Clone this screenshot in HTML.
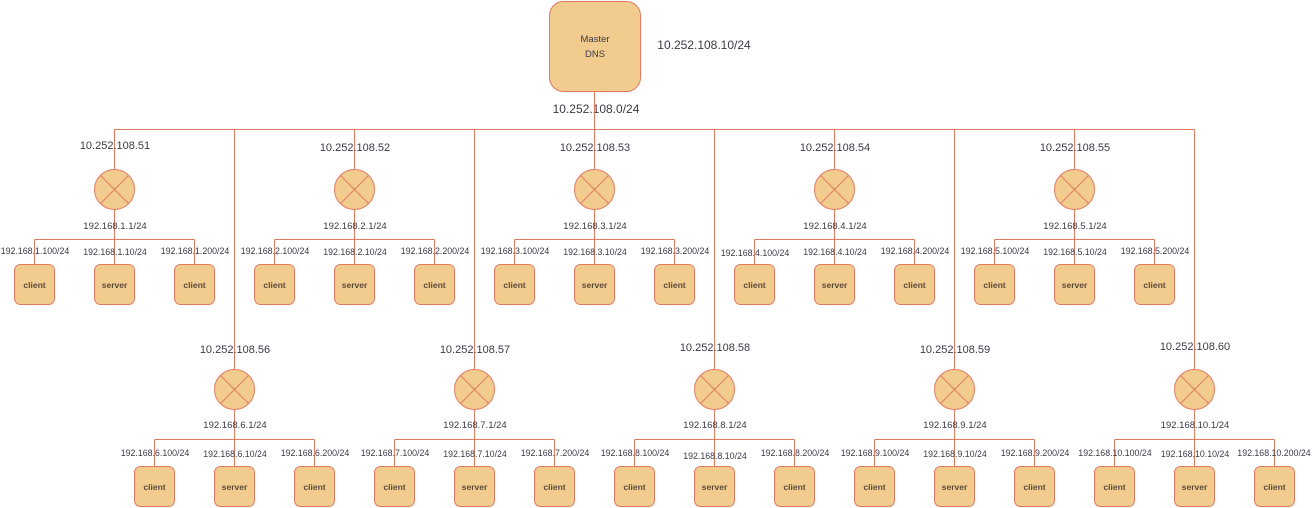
<!DOCTYPE html>
<html><head><meta charset="utf-8"><style>
html,body{margin:0;padding:0;background:#fff;}
svg{display:block;font-family:"Liberation Sans",sans-serif;}
.l{stroke:#e07a5f;stroke-width:1;fill:none;}
.b{fill:#f2cc8f;stroke:#e07a5f;stroke-width:1;}
.t{fill:#3a3a48;text-anchor:middle;}
.r{font-size:11px;}
.s{font-size:9.5px;}
.i{font-size:8.8px;}
.c{font-size:8.5px;font-weight:bold;fill:#5a4a3a;}
</style></head><body>
<svg width="1313" height="508" viewBox="0 0 1313 508">
<rect class="b" x="549.5" y="1.5" width="91" height="90" rx="14"/>
<text class="t" x="595" y="42" font-size="9.5">Master</text>
<text class="t" x="595" y="57" font-size="9.5">DNS</text>
<text class="t" x="704" y="49" font-size="12">10.252.108.10/24</text>
<text class="t" x="596" y="113" font-size="12">10.252.108.0/24</text>
<path class="l" d="M594.5 91V129.5M114.5 129.5H1194.5"/>

<!-- top row -->
<g>
<path class="l" d="M114.5 129.5V169M234.5 129.5V369M354.5 129.5V169M474.5 129.5V369M594.5 129.5V169M714.5 129.5V369M834.5 129.5V169M954.5 129.5V369M1074.5 129.5V169M1194.5 129.5V369"/>
</g>

<!-- group template drawn per router -->
<g id="g1">
<circle class="b" cx="114.5" cy="189.5" r="20"/><path class="l" d="M100.5 175.5L128.5 203.5M128.5 175.5L100.5 203.5M114.5 209.5V264M34.5 239.5H194.5M34.5 239.5V264M194.5 239.5V264"/>
<rect class="b" x="14.5" y="264.5" width="40" height="40" rx="6"/><rect class="b" x="94.5" y="264.5" width="40" height="40" rx="6"/><rect class="b" x="174.5" y="264.5" width="40" height="40" rx="6"/>
<text class="t r" x="115" y="149">10.252.108.51</text><text class="t s" x="115" y="229">192.168.1.1/24</text>
<text class="t i" x="35" y="254">192.168.1.100/24</text><text class="t i" x="115" y="255">192.168.1.10/24</text><text class="t i" x="195" y="254">192.168.1.200/24</text>
<text class="t c" x="34.5" y="288">client</text><text class="t c" x="114.5" y="288">server</text><text class="t c" x="194.5" y="288">client</text>
</g>
<g>
<circle class="b" cx="354.5" cy="189.5" r="20"/><path class="l" d="M340.5 175.5L368.5 203.5M368.5 175.5L340.5 203.5M354.5 209.5V264M274.5 239.5H434.5M274.5 239.5V264M434.5 239.5V264"/>
<rect class="b" x="254.5" y="264.5" width="40" height="40" rx="6"/><rect class="b" x="334.5" y="264.5" width="40" height="40" rx="6"/><rect class="b" x="414.5" y="264.5" width="40" height="40" rx="6"/>
<text class="t r" x="355" y="151">10.252.108.52</text><text class="t s" x="355" y="229">192.168.2.1/24</text>
<text class="t i" x="275" y="254">192.168.2.100/24</text><text class="t i" x="355" y="255">192.168.2.10/24</text><text class="t i" x="435" y="254">192.168.2.200/24</text>
<text class="t c" x="274.5" y="288">client</text><text class="t c" x="354.5" y="288">server</text><text class="t c" x="434.5" y="288">client</text>
</g>
<g>
<circle class="b" cx="594.5" cy="189.5" r="20"/><path class="l" d="M580.5 175.5L608.5 203.5M608.5 175.5L580.5 203.5M594.5 209.5V264M514.5 239.5H674.5M514.5 239.5V264M674.5 239.5V264"/>
<rect class="b" x="494.5" y="264.5" width="40" height="40" rx="6"/><rect class="b" x="574.5" y="264.5" width="40" height="40" rx="6"/><rect class="b" x="654.5" y="264.5" width="40" height="40" rx="6"/>
<text class="t r" x="595" y="151">10.252.108.53</text><text class="t s" x="595" y="229">192.168.3.1/24</text>
<text class="t i" x="515" y="254">192.168.3.100/24</text><text class="t i" x="595" y="255">192.168.3.10/24</text><text class="t i" x="675" y="254">192.168.3.200/24</text>
<text class="t c" x="514.5" y="288">client</text><text class="t c" x="594.5" y="288">server</text><text class="t c" x="674.5" y="288">client</text>
</g>
<g>
<circle class="b" cx="834.5" cy="189.5" r="20"/><path class="l" d="M820.5 175.5L848.5 203.5M848.5 175.5L820.5 203.5M834.5 209.5V264M754.5 239.5H914.5M754.5 239.5V264M914.5 239.5V264"/>
<rect class="b" x="734.5" y="264.5" width="40" height="40" rx="6"/><rect class="b" x="814.5" y="264.5" width="40" height="40" rx="6"/><rect class="b" x="894.5" y="264.5" width="40" height="40" rx="6"/>
<text class="t r" x="835" y="151">10.252.108.54</text><text class="t s" x="835" y="229">192.168.4.1/24</text>
<text class="t i" x="755" y="256">192.168.4.100/24</text><text class="t i" x="835" y="255">192.168.4.10/24</text><text class="t i" x="915" y="254">192.168.4.200/24</text>
<text class="t c" x="754.5" y="288">client</text><text class="t c" x="834.5" y="288">server</text><text class="t c" x="914.5" y="288">client</text>
</g>
<g>
<circle class="b" cx="1074.5" cy="189.5" r="20"/><path class="l" d="M1060.5 175.5L1088.5 203.5M1088.5 175.5L1060.5 203.5M1074.5 209.5V264M994.5 239.5H1154.5M994.5 239.5V264M1154.5 239.5V264"/>
<rect class="b" x="974.5" y="264.5" width="40" height="40" rx="6"/><rect class="b" x="1054.5" y="264.5" width="40" height="40" rx="6"/><rect class="b" x="1134.5" y="264.5" width="40" height="40" rx="6"/>
<text class="t r" x="1075" y="151">10.252.108.55</text><text class="t s" x="1075" y="229">192.168.5.1/24</text>
<text class="t i" x="995" y="254">192.168.5.100/24</text><text class="t i" x="1075" y="255">192.168.5.10/24</text><text class="t i" x="1155" y="254">192.168.5.200/24</text>
<text class="t c" x="994.5" y="288">client</text><text class="t c" x="1074.5" y="288">server</text><text class="t c" x="1154.5" y="288">client</text>
</g>

<!-- bottom row -->
<g>
<circle class="b" cx="234.5" cy="389.5" r="20"/><path class="l" d="M220.5 375.5L248.5 403.5M248.5 375.5L220.5 403.5M234.5 409.5V466M154.5 439.5H314.5M154.5 439.5V466M314.5 439.5V466"/>
<rect class="b" x="134.5" y="466.5" width="40" height="40" rx="6"/><rect class="b" x="214.5" y="466.5" width="40" height="40" rx="6"/><rect class="b" x="294.5" y="466.5" width="40" height="40" rx="6"/>
<text class="t r" x="235" y="353">10.252.108.56</text><text class="t s" x="235" y="428">192.168.6.1/24</text>
<text class="t i" x="155" y="456">192.168.6.100/24</text><text class="t i" x="235" y="457">192.168.6.10/24</text><text class="t i" x="315" y="456">192.168.6.200/24</text>
<text class="t c" x="154.5" y="490">client</text><text class="t c" x="234.5" y="490">server</text><text class="t c" x="314.5" y="490">client</text>
</g>
<g>
<circle class="b" cx="474.5" cy="389.5" r="20"/><path class="l" d="M460.5 375.5L488.5 403.5M488.5 375.5L460.5 403.5M474.5 409.5V466M394.5 439.5H554.5M394.5 439.5V466M554.5 439.5V466"/>
<rect class="b" x="374.5" y="466.5" width="40" height="40" rx="6"/><rect class="b" x="454.5" y="466.5" width="40" height="40" rx="6"/><rect class="b" x="534.5" y="466.5" width="40" height="40" rx="6"/>
<text class="t r" x="475" y="353">10.252.108.57</text><text class="t s" x="475" y="428">192.168.7.1/24</text>
<text class="t i" x="395" y="456">192.168.7.100/24</text><text class="t i" x="475" y="457">192.168.7.10/24</text><text class="t i" x="555" y="456">192.168.7.200/24</text>
<text class="t c" x="394.5" y="490">client</text><text class="t c" x="474.5" y="490">server</text><text class="t c" x="554.5" y="490">client</text>
</g>
<g>
<circle class="b" cx="714.5" cy="389.5" r="20"/><path class="l" d="M700.5 375.5L728.5 403.5M728.5 375.5L700.5 403.5M714.5 409.5V466M634.5 439.5H794.5M634.5 439.5V466M794.5 439.5V466"/>
<rect class="b" x="614.5" y="466.5" width="40" height="40" rx="6"/><rect class="b" x="694.5" y="466.5" width="40" height="40" rx="6"/><rect class="b" x="774.5" y="466.5" width="40" height="40" rx="6"/>
<text class="t r" x="715" y="351">10.252.108.58</text><text class="t s" x="715" y="428">192.168.8.1/24</text>
<text class="t i" x="635" y="456">192.168.8.100/24</text><text class="t i" x="715" y="459">192.168.8.10/24</text><text class="t i" x="795" y="456">192.168.8.200/24</text>
<text class="t c" x="634.5" y="490">client</text><text class="t c" x="714.5" y="490">server</text><text class="t c" x="794.5" y="490">client</text>
</g>
<g>
<circle class="b" cx="954.5" cy="389.5" r="20"/><path class="l" d="M940.5 375.5L968.5 403.5M968.5 375.5L940.5 403.5M954.5 409.5V466M874.5 439.5H1034.5M874.5 439.5V466M1034.5 439.5V466"/>
<rect class="b" x="854.5" y="466.5" width="40" height="40" rx="6"/><rect class="b" x="934.5" y="466.5" width="40" height="40" rx="6"/><rect class="b" x="1014.5" y="466.5" width="40" height="40" rx="6"/>
<text class="t r" x="955" y="353">10.252.108.59</text><text class="t s" x="955" y="428">192.168.9.1/24</text>
<text class="t i" x="875" y="456">192.168.9.100/24</text><text class="t i" x="955" y="457">192.168.9.10/24</text><text class="t i" x="1035" y="456">192.168.9.200/24</text>
<text class="t c" x="874.5" y="490">client</text><text class="t c" x="954.5" y="490">server</text><text class="t c" x="1034.5" y="490">client</text>
</g>
<g>
<circle class="b" cx="1194.5" cy="389.5" r="20"/><path class="l" d="M1180.5 375.5L1208.5 403.5M1208.5 375.5L1180.5 403.5M1194.5 409.5V466M1114.5 439.5H1274.5M1114.5 439.5V466M1274.5 439.5V466"/>
<rect class="b" x="1094.5" y="466.5" width="40" height="40" rx="6"/><rect class="b" x="1174.5" y="466.5" width="40" height="40" rx="6"/><rect class="b" x="1254.5" y="466.5" width="40" height="40" rx="6"/>
<text class="t r" x="1195" y="350">10.252.108.60</text><text class="t s" x="1195" y="428">192.168.10.1/24</text>
<text class="t i" x="1115" y="456">192.168.10.100/24</text><text class="t i" x="1195" y="457">192.168.10.10/24</text><text class="t i" x="1274" y="456">192.168.10.200/24</text>
<text class="t c" x="1114.5" y="490">client</text><text class="t c" x="1194.5" y="490">server</text><text class="t c" x="1274.5" y="490">client</text>
</g>
</svg>
</body></html>
